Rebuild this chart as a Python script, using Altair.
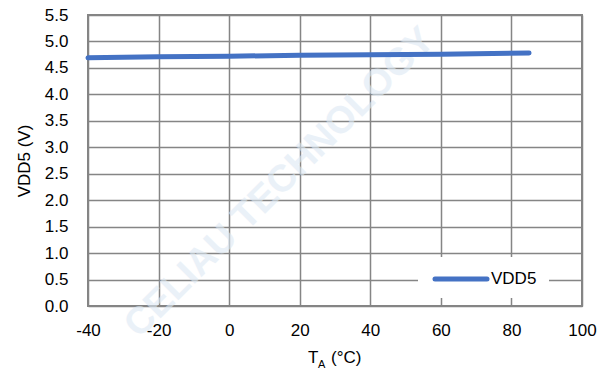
import altair as alt
import pandas as pd

# Supply voltage VDD5 versus ambient temperature
temps = [-40, -20, 0, 20, 40, 60, 85]
vdd5 = [4.69, 4.71, 4.72, 4.74, 4.75, 4.76, 4.78]
series_name = "VDD5"

x_ticks = [-40, -20, 0, 20, 40, 60, 80, 100]
y_ticks = [0.0, 0.5, 1.0, 1.5, 2.0, 2.5, 3.0, 3.5, 4.0, 4.5, 5.0, 5.5]

df = pd.DataFrame({"temp": temps, "vdd": vdd5})

FONT = "Liberation Sans"
FS = 17
GRID = "#858585"
BLUE = "#4472C4"

W, H = 494, 291


def label(text, size, x, y, **kw):
    return alt.Chart(pd.DataFrame({"t": [text]})).mark_text(
        font=FONT, fontSize=size, color="#000000", align="left",
        baseline="alphabetic", **kw
    ).encode(text="t:N", x=alt.value(x), y=alt.value(y))


watermark = alt.Chart(pd.DataFrame({"t": ["CELIAU TECHNOLOGY"]})).mark_text(
    font=FONT, fontSize=38, fontWeight="bold", color="#dde9f4", opacity=0.6,
    angle=315
).encode(text="t:N", x=alt.value(192), y=alt.value(168))

line = alt.Chart(df).mark_line(strokeWidth=5, strokeCap="round", color=BLUE).encode(
    x=alt.X(
        "temp:Q",
        scale=alt.Scale(domain=[-40, 100], nice=False),
        axis=alt.Axis(values=x_ticks, title=None, labelExpr="'' + datum.value"),
    ),
    y=alt.Y(
        "vdd:Q",
        scale=alt.Scale(domain=[0, 5.5], nice=False),
        axis=alt.Axis(values=y_ticks, title="VDD5 (V)", format=".1f"),
    ),
)

# legend box inside the lower right of the plot
legend_box = alt.Chart(pd.DataFrame({"k": [series_name]})).mark_rect(
    color="white"
).encode(x=alt.value(330), x2=alt.value(461), y=alt.value(242), y2=alt.value(283))
legend_line = alt.Chart(pd.DataFrame({"k": [series_name]})).mark_rule(
    color=BLUE, strokeWidth=5, strokeCap="round"
).encode(x=alt.value(347), x2=alt.value(399), y=alt.value(264))
legend_text = alt.Chart(pd.DataFrame({"t": [series_name]})).mark_text(
    font=FONT, fontSize=FS, color="#000000", align="left", baseline="middle"
).encode(text="t:N", x=alt.value(403), y=alt.value(264))

# x-axis title with subscript
title_main = label("T", FS, 220, 348)
title_sub = label("A", 11, 230, 353)
title_rest = label("(°C)", FS, 243, 348)

chart = (
    alt.layer(watermark, line, legend_box, legend_line, legend_text,
              title_main, title_sub, title_rest)
    .properties(
        width=W,
        height=H,
        autosize=alt.AutoSizeParams(type="none"),
        padding={"left": 88, "top": 15, "right": 27, "bottom": 66},
        background="white",
    )
    .configure_view(stroke=GRID, strokeWidth=2)
    .configure_axis(
        grid=True,
        gridColor=GRID,
        gridWidth=1.5,
        gridOpacity=1,
        domain=False,
        ticks=False,
        labelFont=FONT,
        labelFontSize=FS,
        labelColor="#000000",
        titleFont=FONT,
        titleFontSize=FS,
        titleFontWeight="normal",
        titleColor="#000000",
    )
    .configure_axisX(labelPadding=16, labelFlush=False)
    .configure_axisY(labelPadding=20, titlePadding=11)
)

chart.save("out.html", embed_options={"renderer": "svg", "actions": False})
